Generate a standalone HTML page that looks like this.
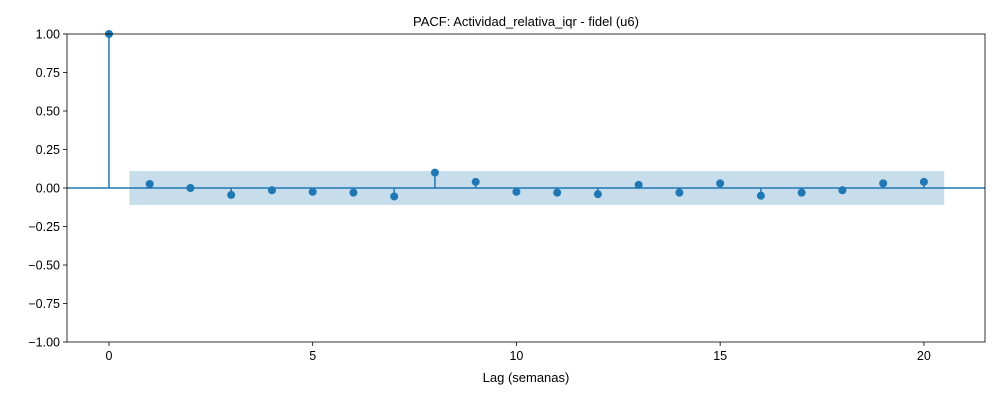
<!DOCTYPE html>
<html><head><meta charset="utf-8"><style>
body{margin:0;background:#fff;}
svg text{font-family:"Liberation Sans",sans-serif;fill:#000;}
</style></head><body>
<svg id="chart" width="1000" height="400" xmlns="http://www.w3.org/2000/svg"></svg>
<script>
const lags = [0,1,2,3,4,5,6,7,8,9,10,11,12,13,14,15,16,17,18,19,20];
const pacfValues = [1.0,0.026,0.0,-0.045,-0.015,-0.025,-0.03,-0.055,0.1,0.04,-0.025,-0.03,-0.04,0.02,-0.03,0.03,-0.05,-0.03,-0.015,0.03,0.04];
const confLimit = 0.11;
const xTicks = [0,5,10,15,20];
const yTicks = [-1,-0.75,-0.5,-0.25,0,0.25,0.5,0.75,1];

const L=67,R=985,T=34,B=342;
const xMin=-1.03,xMax=21.5,yMin=-1,yMax=1;
const X=v=>L+(v-xMin)/(xMax-xMin)*(R-L);
const Y=v=>B-(v-yMin)/(yMax-yMin)*(B-T);
const svg=document.getElementById('chart');
const NS='http://www.w3.org/2000/svg';
function el(tag,attrs,parent){const e=document.createElementNS(NS,tag);for(const k in attrs)e.setAttribute(k,attrs[k]);(parent||svg).appendChild(e);return e;}
const c='#1f77b4';

let band=el('rect',{x:X(0.5),y:Y(confLimit),width:X(lags.length-0.5)-X(0.5),height:Y(-confLimit)-Y(confLimit),fill:c,'fill-opacity':0.25});



let zl=el('line',{x1:L,x2:R,y1:Y(0),y2:Y(0),stroke:c,'stroke-width':1.5});



lags.forEach((lg,i)=>{
  const s=el('line',{x1:X(lg),x2:X(lg),y1:Y(0),y2:Y(pacfValues[i]),stroke:c,'stroke-width':1.5});
  
  
  const p=el('circle',{cx:X(lg),cy:Y(pacfValues[i]),r:4,fill:c});
  
  
});

let frame=el('rect',{x:L,y:T,width:R-L,height:B-T,fill:'none',stroke:'#000','stroke-width':0.8});



xTicks.forEach(t=>{
  el('line',{x1:X(t),x2:X(t),y1:B,y2:B+4,stroke:'#000','stroke-width':0.8});
  const tx=el('text',{x:X(t),y:B+18,'text-anchor':'middle','font-size':12.5});
  tx.textContent=t;
  
  
});
yTicks.forEach(t=>{
  el('line',{x1:L-4,x2:L,y1:Y(t),y2:Y(t),stroke:'#000','stroke-width':0.8});
  const tx=el('text',{x:L-7,y:Y(t)+4.5,'text-anchor':'end','font-size':12.5});
  tx.textContent=t.toFixed(2).replace('-','\u2212');
  
  
});

let title=el('text',{x:(L+R)/2,y:26,'text-anchor':'middle','font-size':13});
title.textContent='PACF: Actividad_relativa_iqr - fidel (u6)';



let xl=el('text',{x:(L+R)/2,y:382,'text-anchor':'middle','font-size':13});
xl.textContent='Lag (semanas)';


</script>
</body></html>
